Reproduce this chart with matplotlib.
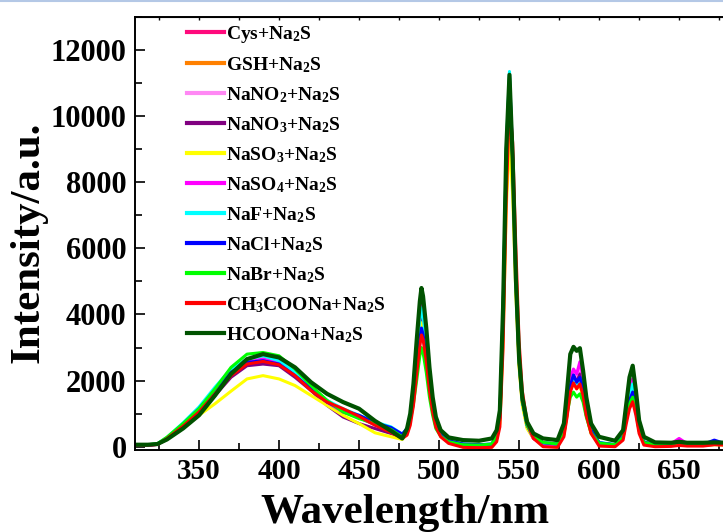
"""
Fluorescence spectra of the probe with Na2S and interfering species
"""
import matplotlib
matplotlib.use('Agg')
import matplotlib.pyplot as plt
from matplotlib.lines import Line2D
from matplotlib.ticker import MultipleLocator

wavelength = [310, 318, 324, 330, 340, 350, 360, 370, 380, 390, 400, 410, 420, 430, 440, 450, 460, 470, 477,
              480, 482, 484, 486, 488, 489, 490, 492, 494, 496, 498, 501, 506, 515, 525,
              533, 536, 538, 540, 542, 544, 546, 548, 550, 552, 555, 559, 565, 574,
              578, 580, 582, 584, 586, 588, 590, 592, 595, 600,
              610, 615, 617, 619, 621, 623, 625, 628,
              635, 645, 650, 655, 665, 672, 680]

cys = [50, 50, 70, 240, 600, 1050, 1600, 2150, 2500, 2600, 2500, 2150, 1750, 1350, 1050, 880, 660, 480, 300,
       450, 850, 1550, 2600, 3550, 3900, 3700, 2900, 1900, 1150, 680, 380, 170, 70, 50,
       60, 320, 880, 3900, 8600, 11000, 8600, 5000, 2600, 1350, 620, 270, 100, 60,
       400, 1050, 1800, 2000, 1850, 1950, 1600, 1050, 480, 110,
       50, 300, 950, 1550, 1800, 1250, 560, 130,
       50, 60, 110, 60, 50, 80, 60]
gsh = [50, 50, 70, 250, 620, 1050, 1600, 2200, 2550, 2650, 2550, 2200, 1750, 1350, 1050, 900, 680, 500, 300,
       450, 800, 1500, 2500, 3400, 3700, 3500, 2750, 1800, 1100, 650, 360, 160, 70, 50,
       60, 300, 850, 3800, 8500, 10900, 8500, 4900, 2550, 1350, 600, 260, 100, 60,
       400, 1000, 1750, 1950, 1800, 1900, 1550, 1000, 450, 110,
       50, 300, 900, 1450, 1700, 1200, 540, 130,
       50, 70, 120, 70, 60, 90, 70]
nano2 = [50, 50, 70, 250, 620, 1050, 1650, 2250, 2600, 2700, 2600, 2250, 1800, 1400, 1100, 920, 700, 530, 330,
         500, 900, 1700, 2850, 3950, 4300, 4050, 3200, 2100, 1300, 750, 400, 170, 60, 40,
         60, 320, 900, 4000, 8900, 11300, 8800, 5100, 2650, 1400, 650, 280, 100, 60,
         450, 1150, 2000, 2250, 2100, 2400, 1950, 1200, 520, 120,
         50, 350, 1050, 1700, 2000, 1400, 620, 150,
         60, 80, 180, 80, 60, 90, 60]
nano3 = [50, 50, 70, 240, 600, 1000, 1550, 2100, 2450, 2500, 2450, 2100, 1700, 1250, 900, 700, 550, 400, 280,
         450, 850, 1600, 2650, 3650, 4000, 3800, 3000, 1950, 1200, 700, 380, 150, 40, 30,
         50, 300, 850, 3900, 8700, 11100, 8600, 5000, 2600, 1350, 600, 250, 80, 40,
         400, 1100, 1900, 2150, 1950, 2200, 1800, 1150, 500, 100,
         40, 320, 1000, 1600, 1900, 1350, 600, 130,
         40, 60, 120, 60, 40, 70, 50]
naso3 = [60, 60, 80, 230, 560, 950, 1300, 1680, 2050, 2150, 2050, 1850, 1550, 1250, 950, 700, 420, 300, 220,
         400, 800, 1500, 2500, 3400, 3750, 3550, 2800, 1850, 1100, 650, 350, 150, 60, 40,
         50, 250, 700, 3200, 7200, 9300, 7600, 4600, 2400, 1250, 550, 250, 80, 50,
         350, 950, 1700, 1900, 1750, 1850, 1500, 950, 400, 90,
         40, 280, 850, 1350, 1600, 1100, 500, 120,
         40, 60, 100, 50, 40, 60, 50]
naso4 = [50, 50, 70, 240, 600, 1050, 1600, 2200, 2550, 2650, 2550, 2200, 1750, 1350, 1050, 900, 700, 520, 330,
         500, 900, 1700, 2900, 4000, 4350, 4100, 3200, 2100, 1300, 750, 400, 150, 30, 20,
         40, 300, 900, 4000, 8800, 11200, 8800, 5200, 2750, 1450, 650, 250, 60, 20,
         450, 1200, 2100, 2350, 2200, 2570, 2100, 1300, 550, 100,
         40, 350, 1050, 1750, 2050, 1450, 650, 150,
         50, 90, 250, 90, 60, 100, 60]
naf = [60, 60, 90, 280, 720, 1200, 1800, 2350, 2650, 2750, 2600, 2250, 1800, 1400, 1150, 950, 750, 600, 380,
       550, 950, 1700, 2800, 3850, 4200, 3950, 3100, 2050, 1300, 750, 420, 200, 80, 60,
       80, 350, 950, 4100, 9000, 11350, 8800, 5100, 2650, 1400, 650, 300, 120, 80,
       450, 1100, 1850, 2100, 1900, 2050, 1700, 1100, 500, 130,
       60, 330, 1000, 1600, 1900, 1350, 600, 150,
       60, 90, 160, 90, 70, 110, 70]
nacl = [50, 50, 80, 260, 680, 1150, 1700, 2250, 2550, 2600, 2500, 2150, 1750, 1350, 1100, 950, 720, 580, 380,
        550, 850, 1450, 2400, 3250, 3590, 3400, 2700, 1750, 1100, 650, 380, 180, 80, 60,
        80, 330, 900, 3900, 8600, 11000, 8700, 5100, 2650, 1400, 650, 300, 120, 80,
        450, 1100, 1850, 2170, 1950, 2100, 1750, 1100, 500, 120,
        60, 300, 880, 1400, 1650, 1150, 520, 140,
        60, 80, 150, 80, 70, 200, 70]
nabr = [60, 60, 90, 290, 700, 1150, 1750, 2400, 2800, 2850, 2750, 2350, 1850, 1400, 1050, 850, 700, 520, 300,
        500, 800, 1300, 2000, 2750, 3000, 2850, 2250, 1500, 950, 550, 320, 150, 60, 50,
        80, 350, 950, 4100, 8900, 11200, 8600, 5000, 2600, 1400, 650, 300, 130, 80,
        400, 1000, 1500, 1650, 1500, 1600, 1350, 900, 420, 110,
        60, 280, 820, 1300, 1500, 1050, 480, 130,
        60, 80, 140, 80, 60, 100, 60]
ch3coona = [50, 50, 70, 250, 620, 1050, 1600, 2150, 2500, 2580, 2480, 2150, 1700, 1350, 1150, 920, 650, 430, 250,
            350, 650, 1250, 2200, 3050, 3380, 3250, 2600, 1700, 1050, 600, 300, 100, -20, -30,
            -20, 150, 600, 3000, 7500, 10400, 9200, 6000, 3200, 1700, 750, 250, 0, -20,
            300, 900, 1650, 1930, 1750, 1900, 1550, 950, 400, 20,
            0, 200, 700, 1150, 1360, 950, 400, 50,
            0, 10, 40, 20, 20, 60, 50]
hcoona = [60, 60, 80, 220, 550, 950, 1550, 2200, 2650, 2800, 2700, 2400, 1950, 1600, 1350, 1150, 780, 480, 250,
          550, 1000, 1900, 3200, 4400, 4800, 4550, 3600, 2400, 1500, 900, 500, 280, 200, 180,
          250, 500, 1100, 4200, 9000, 11250, 8700, 5100, 2700, 1500, 750, 400, 250, 200,
          700, 1700, 2800, 3020, 2900, 2980, 2300, 1500, 700, 300,
          180, 500, 1300, 2100, 2450, 1700, 800, 300,
          130, 120, 150, 120, 120, 130, 120]

series = [cys, gsh, nano2, nano3, naso3, naso4, naf, nacl, nabr, ch3coona, hcoona]
labels = ['Cys+Na$_2$S', 'GSH+Na$_2$S', 'NaNO$_2$+Na$_2$S', 'NaNO$_3$+Na$_2$S',
          'NaSO$_3$+Na$_2$S', 'NaSO$_4$+Na$_2$S', 'NaF+Na$_2$S', 'NaCl+Na$_2$S',
          'NaBr+Na$_2$S', 'CH$_3$COONa+Na$_2$S', 'HCOONa+Na$_2$S']
colors = ['#FF0A7C', '#FF8000', '#FF88F4', '#800080', '#FFFF00', '#FF00FF',
          '#00FFFF', '#0000FF', '#00FF00', '#FF0000', '#005200']

plt.rcParams['font.family'] = ['Liberation Serif', 'DejaVu Serif']
plt.rcParams['font.weight'] = 'bold'
plt.rcParams['mathtext.default'] = 'regular'

fig = plt.figure(figsize=(7.23, 5.32), dpi=100)
ax = fig.add_axes([0.1867, 0.1541, 0.819, 0.8141])

for y, lab, c in zip(series, labels, colors):
	lw = 3.0 if c == '#005200' else 2.2
	ax.plot(wavelength, y, color=c, lw=lw, label=lab)

ax.set_xlim(310, 680)
ax.set_ylim(-100, 13000)
ax.xaxis.set_major_locator(MultipleLocator(50))
ax.xaxis.set_minor_locator(MultipleLocator(25))
ax.yaxis.set_major_locator(MultipleLocator(2000))
ax.yaxis.set_minor_locator(MultipleLocator(1000))
ax.tick_params(which='both', direction='in', width=1.2, pad=6)
ax.tick_params(axis='x', labelsize=21)
ax.tick_params(axis='y', labelsize=22)
ax.tick_params(which='major', length=7)
ax.tick_params(which='minor', length=5)
for sp in ax.spines.values():
	sp.set_linewidth(1.4)

top = ax.secondary_xaxis('top')
top.xaxis.set_major_locator(MultipleLocator(25))
top.tick_params(direction='in', length=2.5, width=1.0, labeltop=False)

ax.set_xlabel('Wavelength/nm', fontsize=31, fontweight='bold')
ax.set_ylabel('Intensity/a.u.', fontsize=31, fontweight='bold')
ax.xaxis.set_label_coords(0.456, -0.102)
ax.yaxis.set_label_coords(-0.147, 0.48)

leg = ax.legend(loc='upper left', bbox_to_anchor=(0.058, 1.025), frameon=False,
                fontsize=14, handlelength=1.9, handletextpad=0.12, labelspacing=0.53)
for h in leg.get_lines():
	h.set_linewidth(3.0)

fig.add_artist(Line2D([0, 1], [0.998, 0.998], color='#B4C8E6', lw=1.5))

fig.savefig('out.png', dpi=100)
